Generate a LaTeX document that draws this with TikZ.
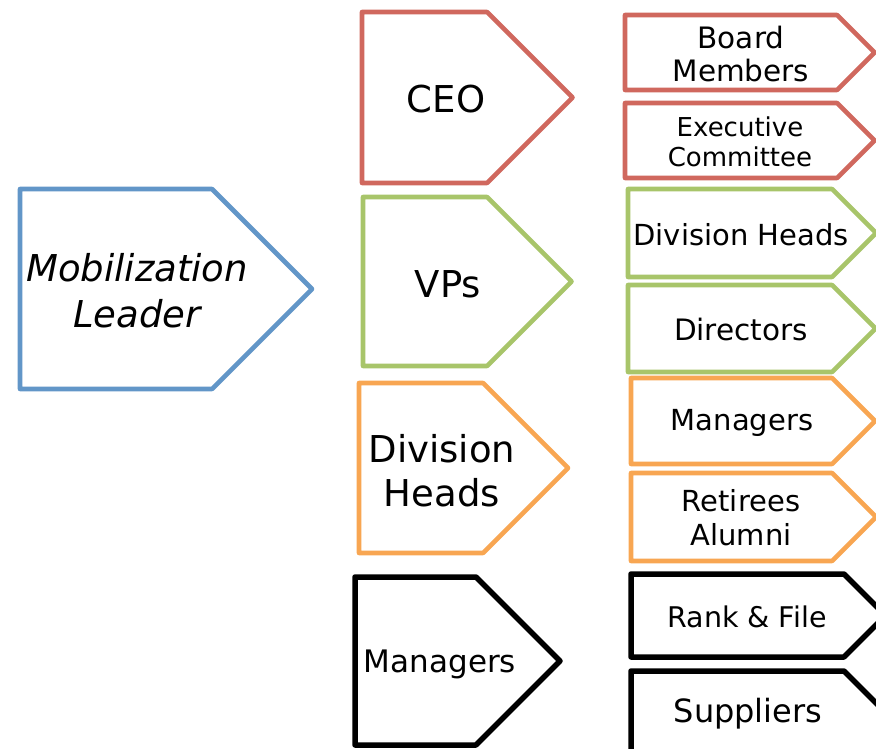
\documentclass[tikz,border=0pt]{standalone}
\usepackage{fontspec}
\setmainfont{DejaVu Sans}
\usetikzlibrary{positioning}
\definecolor{tagred}{RGB}{208,104,94}
\definecolor{taggreen}{RGB}{168,197,106}
\definecolor{tagorange}{RGB}{248,166,82}
\definecolor{tagblue}{RGB}{98,150,200}

\begin{document}
\begin{tikzpicture}[
    x=1pt,y=-1pt,
    tag/.style={
      line width=4pt,
      line join=round,
      fill=white
      },
    lbl/.style={
      align=center,
      inner sep=0pt
      },
    big/.style={lbl, font=\fontsize{37}{46}\selectfont},
    small/.style={lbl, font=\fontsize{29}{33}\selectfont}
    ]
    \useasboundingbox (0,0) rectangle (876,749);
    \clip (0,0) rectangle (876,749);
    % left x / top y / bottom y / start of the point / colour / width
    \foreach \l/\t/\b/\c/\col/\w in {
      20/189/389/212/tagblue/4.6,
      362/12/183/487/tagred/4.6,
      363/197/366/487/taggreen/4.6,
      359/383/553/483/tagorange/4.6,
      355/577/745/476/black/5.5,
      625/15/90/837/tagred/4.6,
      625/103/178/837/tagred/4.6,
      628/189/277/832/taggreen/4.6,
      628/285/372/832/taggreen/4.6,
      631/378/464/832/tagorange/4.6,
      631/473/561/832/tagorange/4.6,
      631/574/657/844/black/5.5,
      631/671/790/844/black/5.5}
    {
      \pgfmathsetmacro{\m}{(\t+\b)/2}
      \pgfmathsetmacro{\p}{\c+(\b-\t)/2}
      \draw[tag, draw=\col, line width=\w pt] (\l,\t) -- (\c,\t) -- (\p,\m) -- (\c,\b) -- (\l,\b) -- cycle;
    }
    % first column
    \node[big, font=\fontsize{37}{46}\selectfont\itshape] (leader) at (137,291) {Mobilization\\Leader};
    \node[big] (ceo) at (446,99) {CEO};
    \node[big] (vps) at (448,284) {VPs};
    \node[big, font=\fontsize{37}{44}\selectfont] (divheads) at (442,471) {Division\\Heads};
    \node[big, font=\fontsize{31}{38}\selectfont] (managers) at (440,664) {Managers};
    % second column
    \node[small, font=\fontsize{29.5}{33}\selectfont] (board) at (741,54) {Board\\Members};
    \node[small, font=\fontsize{26}{30}\selectfont] (exec) at (740,142) {Executive\\Committee};
    \node[small] (divheads2) at (741,235) {Division Heads};
    \node[small, font=\fontsize{29.5}{35}\selectfont] (directors) at (741,330) {Directors};
    \node[small] (managers2) at (742,423) {Managers};
    \node[small, font=\fontsize{29}{34}\selectfont] (retirees) at (741,518) {Retirees\\Alumni};
    \node[small, font=\fontsize{28.5}{34}\selectfont] (rank) at (747,617) {Rank \& File};
    \node[small, font=\fontsize{32}{36}\selectfont] (suppliers) at (748,714) {Suppliers};
\end{tikzpicture}
\end{document}
